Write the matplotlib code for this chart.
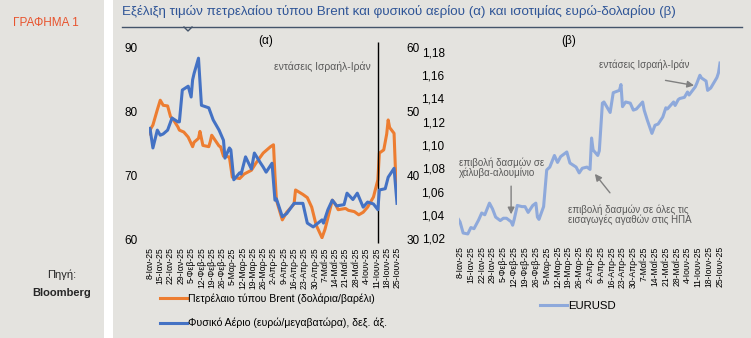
import matplotlib
matplotlib.use("Agg")
import matplotlib.pyplot as plt
from matplotlib.lines import Line2D
from matplotlib.patches import Rectangle
from matplotlib.ticker import FuncFormatter
import pandas as pd

plt.rcParams['font.family'] = ['Liberation Sans', 'DejaVu Sans']

# Brent (USD/barrel), left axis of panel (a)
brent_dates = ["2025-01-07", "2025-01-08", "2025-01-10", "2025-01-13", "2025-01-15", "2025-01-17",
               "2025-01-20", "2025-01-22", "2025-01-24", "2025-01-27", "2025-01-28", "2025-01-31",
               "2025-02-03", "2025-02-06", "2025-02-07", "2025-02-10", "2025-02-11", "2025-02-13",
               "2025-02-17", "2025-02-18", "2025-02-19", "2025-02-24", "2025-02-25", "2025-02-27",
               "2025-03-03", "2025-03-04", "2025-03-05", "2025-03-10", "2025-03-13", "2025-03-18",
               "2025-03-21", "2025-03-26", "2025-03-31", "2025-04-02", "2025-04-03", "2025-04-04",
               "2025-04-08", "2025-04-11", "2025-04-16", "2025-04-17", "2025-04-22", "2025-04-25",
               "2025-04-28", "2025-05-01", "2025-05-05", "2025-05-07", "2025-05-09", "2025-05-12",
               "2025-05-14", "2025-05-16", "2025-05-21", "2025-05-23", "2025-05-27", "2025-05-30",
               "2025-06-02", "2025-06-05", "2025-06-09", "2025-06-12", "2025-06-13", "2025-06-16",
               "2025-06-18", "2025-06-19", "2025-06-20", "2025-06-23", "2025-06-24", "2025-06-25"]
brent = [76.5, 77.1, 77.9, 80.3, 81.8, 81.0,
         80.9, 79.2, 78.7, 77.6, 77.1, 76.8,
         76.0, 74.5, 75.2, 75.8, 76.9, 74.7,
         74.5, 75.3, 76.3, 74.6, 74.5, 73.0,
         72.9, 71.3, 69.7, 69.5, 70.2, 70.8,
         71.9, 73.5, 74.5, 74.8, 70.0, 66.1,
         63.0, 64.2, 65.5, 67.7, 67.0, 66.5,
         65.0, 62.2, 60.2, 61.5, 63.3, 66.1,
         65.5, 64.6, 64.8, 64.5, 64.3, 63.8,
         64.2, 65.0, 66.6, 69.3, 73.5, 74.0,
         76.5, 78.7, 77.5, 76.6, 70.5, 67.5]

# natural gas (EUR/MWh), right axis of panel (a)
gas_dates = ["2025-01-07", "2025-01-08", "2025-01-10", "2025-01-13", "2025-01-15", "2025-01-17",
             "2025-01-20", "2025-01-23", "2025-01-27", "2025-01-28", "2025-01-30", "2025-02-03",
             "2025-02-05", "2025-02-06", "2025-02-07", "2025-02-10", "2025-02-12", "2025-02-17",
             "2025-02-20", "2025-02-24", "2025-02-27", "2025-02-28", "2025-03-03", "2025-03-04",
             "2025-03-06", "2025-03-10", "2025-03-11", "2025-03-14", "2025-03-18", "2025-03-20",
             "2025-03-24", "2025-03-26", "2025-03-28", "2025-04-01", "2025-04-03", "2025-04-04",
             "2025-04-08", "2025-04-11", "2025-04-16", "2025-04-22", "2025-04-25", "2025-04-29",
             "2025-05-05", "2025-05-06", "2025-05-09", "2025-05-12", "2025-05-15", "2025-05-20",
             "2025-05-22", "2025-05-26", "2025-05-29", "2025-06-02", "2025-06-05", "2025-06-09",
             "2025-06-12", "2025-06-13", "2025-06-17", "2025-06-19", "2025-06-23", "2025-06-25"]
gas = [47.0, 47.4, 44.3, 47.1, 46.3, 46.5,
       47.1, 49.0, 48.4, 48.4, 53.4, 54.0,
       52.3, 55.0, 56.0, 58.4, 51.0, 50.6,
       48.7, 47.1, 45.5, 42.7, 44.3, 44.0,
       39.3, 40.4, 40.2, 42.9, 41.0, 43.5,
       42.0, 41.3, 40.5, 41.9, 36.1, 36.3,
       33.5, 34.0, 35.6, 35.6, 32.5, 31.9,
       33.0, 32.5, 34.6, 36.1, 35.2, 35.4,
       37.2, 36.2, 37.2, 35.0, 35.8, 35.5,
       34.6, 37.7, 37.9, 39.7, 41.1, 35.6]

# EUR/USD, panel (b)
fx_dates = ["2025-01-07", "2025-01-08", "2025-01-10", "2025-01-13", "2025-01-15", "2025-01-17",
            "2025-01-20", "2025-01-22", "2025-01-24", "2025-01-27", "2025-01-29", "2025-01-31",
            "2025-02-03", "2025-02-05", "2025-02-07", "2025-02-10", "2025-02-11", "2025-02-12",
            "2025-02-14", "2025-02-17", "2025-02-19", "2025-02-21", "2025-02-24", "2025-02-26",
            "2025-02-27", "2025-02-28", "2025-03-03", "2025-03-05", "2025-03-07", "2025-03-10",
            "2025-03-12", "2025-03-14", "2025-03-18", "2025-03-20", "2025-03-24", "2025-03-26",
            "2025-03-28", "2025-03-31", "2025-04-02", "2025-04-03", "2025-04-04", "2025-04-07",
            "2025-04-08", "2025-04-10", "2025-04-11", "2025-04-15", "2025-04-17", "2025-04-21",
            "2025-04-22", "2025-04-23", "2025-04-25", "2025-04-28", "2025-04-30", "2025-05-02",
            "2025-05-06", "2025-05-07", "2025-05-09", "2025-05-12", "2025-05-14", "2025-05-16",
            "2025-05-19", "2025-05-21", "2025-05-22", "2025-05-26", "2025-05-27", "2025-05-29",
            "2025-05-30", "2025-06-02", "2025-06-04", "2025-06-05", "2025-06-09", "2025-06-10",
            "2025-06-12", "2025-06-13", "2025-06-16", "2025-06-17", "2025-06-19", "2025-06-23",
            "2025-06-24", "2025-06-25"]
eurusd = [1.036, 1.0338, 1.0243, 1.0235, 1.029, 1.028,
          1.0355, 1.0415, 1.040, 1.050, 1.045, 1.038,
          1.035, 1.037, 1.037, 1.034, 1.031, 1.036,
          1.048, 1.047, 1.047, 1.042, 1.048, 1.050,
          1.038, 1.036, 1.047, 1.0785, 1.081, 1.091,
          1.085, 1.090, 1.094, 1.0845, 1.081, 1.076,
          1.080, 1.081, 1.079, 1.106, 1.0957, 1.091,
          1.095, 1.136, 1.137, 1.128, 1.145, 1.147,
          1.152, 1.133, 1.137, 1.136, 1.130, 1.131,
          1.137, 1.130, 1.1215, 1.110, 1.117, 1.118,
          1.124, 1.132, 1.131, 1.137, 1.134, 1.139,
          1.140, 1.141, 1.1456, 1.143, 1.150, 1.153,
          1.160, 1.1577, 1.155, 1.147, 1.149, 1.158,
          1.162, 1.1705]

tick_dates = pd.date_range("2025-01-08", "2025-06-25", freq="7D")
greek_months = {1: "Ιαν", 2: "Φεβ", 3: "Μαρ", 4: "Απρ", 5: "Μαΐ", 6: "Ιουν"}
tick_labels = [f"{d.day}-{greek_months[d.month]}-25" for d in tick_dates]
event_date = pd.Timestamp("2025-06-12")

BG = "#E4E3DF"
ORANGE = "#ED7D31"
BLUE = "#4472C4"
LIGHTBLUE = "#8EA9DB"
GREY_TXT = "#595959"
W, H = 751, 338

fig = plt.figure(figsize=(W / 100, H / 100), dpi=100)
fig.patch.set_facecolor(BG)

# white separator stripe and header
fig.add_artist(Rectangle((104 / W, 0), 9 / W, 1, transform=fig.transFigure, color="white", lw=0))
fig.text(13 / W, 1 - 23 / H, "ΓΡΑΦΗΜΑ 1", color="#E8542E", fontsize=8.5, va="center")
fig.text(62 / W, 1 - 275 / H, "Πηγή:", color="#262626", fontsize=8, ha="center", va="center")
fig.text(62 / W, 1 - 293 / H, "Bloomberg", color="#262626", fontsize=8, ha="center", va="center",
         fontweight="bold")
fig.text(122 / W, 1 - 11 / H,
         "Εξέλιξη τιμών πετρελαίου τύπου Brent και φυσικού αερίου (α) και ισοτιμίας ευρώ-δολαρίου (β)",
         color="#2F5597", fontsize=9.6, va="center")
fig.add_artist(Line2D([122 / W, 742 / W], [1 - 27 / H] * 2, color="#44546A", lw=1))
fig.add_artist(Line2D([184 / W, 188 / W, 192 / W], [1 - 27 / H, 1 - 31 / H, 1 - 27 / H],
                      color="#44546A", lw=1))

xmin, xmax = pd.Timestamp(brent_dates[0]), pd.Timestamp(brent_dates[-1])

# ---- panel (a)
ax1 = fig.add_axes([148.5 / W, 1 - 239 / H, (397 - 148.5) / W, (239 - 48) / H])
ax1b = ax1.twinx()
l1, = ax1.plot(pd.to_datetime(brent_dates), brent, color=ORANGE, lw=2.2)
l2, = ax1b.plot(pd.to_datetime(gas_dates), gas, color=BLUE, lw=2.2)
ax1.set_ylim(60, 90)
ax1b.set_ylim(30, 60)
ax1.set_yticks([60, 70, 80, 90])
ax1b.set_yticks([30, 40, 50, 60])
ax1.vlines(event_date, 59.3, 91.0, color="black", lw=1, clip_on=False)
ax1.text(pd.Timestamp("2025-06-07"), 87.0, "εντάσεις Ισραήλ-Ιράν", ha="right", va="center",
         fontsize=7.5, color=GREY_TXT)
ax1.set_title("(α)", fontsize=8.5, pad=3, loc="center", x=0.47)

# ---- panel (b)
ax2 = fig.add_axes([458.5 / W, 1 - 238 / H, (720 - 458.5) / W, (238 - 52) / H])
l3, = ax2.plot(pd.to_datetime(fx_dates), eurusd, color=LIGHTBLUE, lw=2.2)
ax2.set_ylim(1.02, 1.18)
ax2.set_yticks([1.02, 1.04, 1.06, 1.08, 1.10, 1.12, 1.14, 1.16, 1.18])
ax2.yaxis.set_major_formatter(FuncFormatter(lambda v, p: f"{v:.2f}".replace(".", ",")))
ax2.set_title("(β)", fontsize=8.5, pad=6, x=0.42)

arrow = dict(arrowstyle="-|>", color="#808080", lw=1, mutation_scale=10)
ax2.annotate("", xy=(pd.Timestamp("2025-02-10"), 1.038), xytext=(pd.Timestamp("2025-02-10"), 1.067),
             arrowprops=arrow)
ax2.text(pd.Timestamp("2025-01-07"), 1.0805, "επιβολή δασμών σε\nχάλυβα-αλουμίνιο", fontsize=7,
         color=GREY_TXT, va="center", linespacing=1.0)
ax2.annotate("", xy=(pd.Timestamp("2025-04-04"), 1.077), xytext=(pd.Timestamp("2025-04-16"), 1.057),
             arrowprops=arrow)
ax2.text(pd.Timestamp("2025-03-19"), 1.040, "επιβολή δασμών σε όλες τις\nεισαγωγές αγαθών στις ΗΠΑ",
         fontsize=7, color=GREY_TXT, va="center", linespacing=1.0)
ax2.annotate("", xy=(pd.Timestamp("2025-06-10"), 1.1508), xytext=(pd.Timestamp("2025-05-19"), 1.156),
             arrowprops=arrow)
ax2.text(pd.Timestamp("2025-04-08"), 1.1688, "εντάσεις Ισραήλ-Ιράν", fontsize=7, color=GREY_TXT,
         va="center")

for ax in (ax1, ax1b, ax2):
    ax.set_facecolor("none")
    for s in ax.spines.values():
        s.set_visible(False)
    ax.tick_params(length=0, labelsize=8.5, colors="black")
    ax.set_xlim(xmin, xmax)
    ax.set_xticks(tick_dates)
    ax.set_xticklabels(tick_labels, rotation=90, fontsize=6.2)
ax1.tick_params(axis="y", pad=8)
ax1b.tick_params(axis="y", pad=7)
ax2.tick_params(axis="y", pad=10)
for ax in (ax1, ax2):
    ax.tick_params(axis="x", pad=6)

ax1.legend([l1, l2], ["Πετρέλαιο τύπου Brent (δολάρια/βαρέλι)",
                      "Φυσικό Αέριο (ευρώ/μεγαβατώρα), δεξ. άξ."],
           loc="upper left", bbox_to_anchor=(160 / W, 1 - 293 / H), bbox_transform=fig.transFigure,
           frameon=False, fontsize=7.6, handlelength=2.6, handletextpad=0.1, labelspacing=1.35,
           borderpad=0, borderaxespad=0)
ax2.legend([l3], ["EURUSD"], loc="upper left", bbox_to_anchor=(540 / W, 1 - 301 / H),
           bbox_transform=fig.transFigure, frameon=False, fontsize=8.2, handlelength=2.4,
           handletextpad=0.1, borderpad=0, borderaxespad=0)

fig.savefig("out.png", dpi=100, facecolor=BG)
